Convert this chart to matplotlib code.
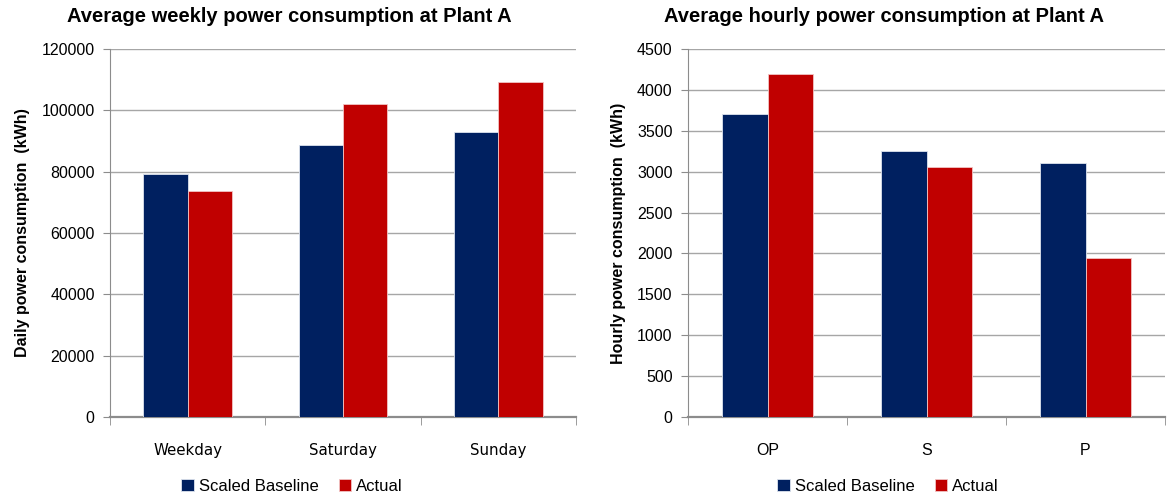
import matplotlib
matplotlib.use("Agg")
import matplotlib.pyplot as plt
import numpy as np

plt.rcParams["font.family"] = ["Liberation Sans", "DejaVu Sans"]

# Data
days = ["Weekday", "Saturday", "Sunday"]
daily_baseline = [79300, 88800, 92800]
daily_actual = [73700, 102200, 109300]

periods = ["OP", "S", "P"]
hourly_baseline = [3700, 3250, 3100]
hourly_actual = [4200, 3060, 1950]

series_names = ["Scaled Baseline", "Actual"]
navy = "#002060"
red = "#C00000"
grid_grey = "#A6A6A6"

fig = plt.figure(figsize=(11.68, 4.98), dpi=100)
ax1 = fig.add_axes([110 / 1168, 81 / 498, 466 / 1168, 368 / 498])
ax2 = fig.add_axes([688 / 1168, 81 / 498, 477 / 1168, 368 / 498])


def draw_panel(ax, cats, base, act, ymax, ystep, ylabel, tick_font, tick_size):
    x = np.arange(len(cats))
    w = 0.285
    ax.bar(x - w / 2, base, w, color=navy, edgecolor="#DDE3EE", linewidth=0.6,
           label=series_names[0], zorder=3)
    ax.bar(x + w / 2, act, w, color=red, edgecolor="#F2C4C4", linewidth=0.6,
           label=series_names[1], zorder=3)
    ax.set_xlim(-0.5, len(cats) - 0.5)
    ax.set_ylim(0, ymax)
    ax.set_yticks(np.arange(0, ymax + 1, ystep))
    ax.yaxis.grid(True, color=grid_grey, linewidth=1.0, zorder=0)
    ax.set_axisbelow(True)
    for s in ["top", "right"]:
        ax.spines[s].set_visible(False)
    ax.spines["left"].set_color("#8C8C8C")
    ax.spines["bottom"].set_color("#8C8C8C")
    ax.spines["bottom"].set_linewidth(1.6)
    ax.set_xticks(x)
    ax.set_xticklabels(cats, fontsize=tick_size, family=tick_font)
    ax.set_xticks(np.arange(-0.5, len(cats), 1.0), minor=True)
    ax.tick_params(axis="x", which="major", length=0, pad=19)
    ax.tick_params(axis="x", which="minor", length=6, color="#8C8C8C", direction="out")
    ax.tick_params(axis="y", length=5, color="#8C8C8C", labelsize=11.5, pad=6)
    ax.set_ylabel(ylabel, fontsize=11.5, fontweight="bold", labelpad=8)


draw_panel(ax1, days, daily_baseline, daily_actual, 120000, 20000,
           "Daily power consumption  (kWh)", ["DejaVu Sans"], 10.8)
draw_panel(ax2, periods, hourly_baseline, hourly_actual, 4500, 500,
           "Hourly power consumption  (kWh)", ["Liberation Sans"], 11.5)

fig.text(289 / 1168, 1 - 17 / 498, "Average weekly power consumption at Plant A",
         ha="center", va="center", fontsize=14.5, fontweight="bold")
fig.text(884 / 1168, 1 - 17 / 498, "Average hourly power consumption at Plant A",
         ha="center", va="center", fontsize=14.5, fontweight="bold")

for ax, cx in [(ax1, 292), (ax2, 888)]:
    h, l = ax.get_legend_handles_labels()
    fig.legend(h, l, loc="center", bbox_to_anchor=(cx / 1168, 1 - 486 / 498),
               ncol=2, frameon=False, fontsize=12, handlelength=0.75,
               handleheight=0.75, handletextpad=0.3, columnspacing=1.2)

fig.savefig("out.png", dpi=100)
